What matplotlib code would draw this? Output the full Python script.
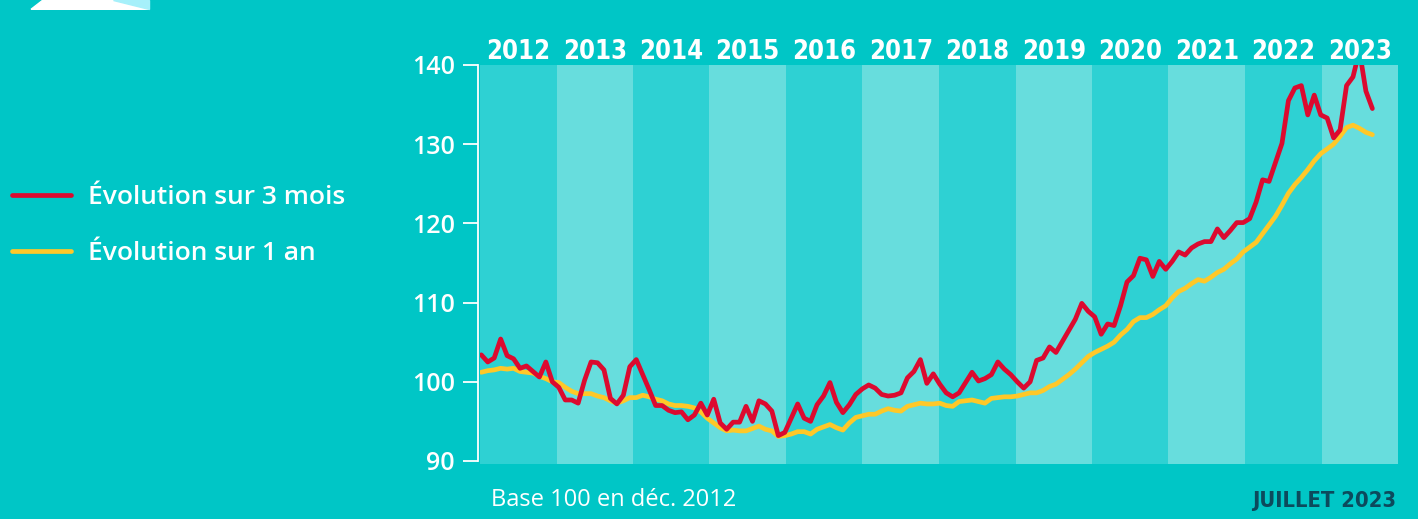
# Indice base 100 (déc. 2012) : évolution sur 3 mois / sur 1 an, janv. 2012 - juil. 2023
import numpy as np
import matplotlib
matplotlib.use("Agg")
import matplotlib.pyplot as plt
from matplotlib import font_manager as fm
from matplotlib.patches import Polygon

# --- data -------------------------------------------------------------
years = [str(y) for y in range(2012, 2024)]
yticks = [90, 100, 110, 120, 130, 140]

evol_3_mois = [
    103.4, 102.5, 103.0, 105.4, 103.3, 102.9, 101.7, 102.0, 101.3, 100.6, 102.5, 100.0,
    99.3, 97.7, 97.7, 97.3, 100.2, 102.5, 102.4, 101.5, 97.9, 97.2, 98.3, 101.9,
    102.8, 100.9, 99.0, 97.0, 97.0, 96.4, 96.1, 96.2, 95.2, 95.8, 97.3, 95.8,
    97.8, 94.8, 94.0, 94.9, 94.9, 96.9, 95.0, 97.6, 97.2, 96.3, 93.2, 93.6,
    95.4, 97.2, 95.4, 95.0, 97.1, 98.2, 99.9, 97.4, 96.1, 97.1, 98.4, 99.1,
    99.6, 99.2, 98.4, 98.2, 98.3, 98.6, 100.5, 101.3, 102.8, 99.8, 101.0, 99.7,
    98.6, 98.1, 98.6, 99.9, 101.2, 100.1, 100.4, 100.9, 102.5, 101.6, 100.9, 100.0,
    99.2, 100.0, 102.7, 103.0, 104.4, 103.7, 105.1, 106.5, 107.9, 109.9, 108.9, 108.2,
    106.0, 107.3, 107.1, 109.6, 112.6, 113.4, 115.6, 115.4, 113.3, 115.2, 114.2, 115.2,
    116.4, 116.0, 116.9, 117.4, 117.7, 117.7, 119.3, 118.2, 119.1, 120.1, 120.1, 120.6,
    122.7, 125.5, 125.3, 127.7, 130.1, 135.5, 137.1, 137.4, 133.7, 136.2, 133.7, 133.3,
    130.8, 131.8, 137.4, 138.5, 141.8, 136.7, 134.5,
]

evol_1_an = [
    101.2, 101.4, 101.5, 101.7, 101.6, 101.7, 101.3, 101.2, 101.1, 100.7, 100.4, 100.0,
    99.9, 99.3, 98.8, 98.5, 98.5, 98.5, 98.2, 98.0, 97.6, 97.3, 97.6, 98.0,
    98.0, 98.3, 98.1, 97.8, 97.6, 97.2, 97.0, 97.0, 96.9, 96.7, 96.2, 95.4,
    94.8, 94.2, 93.8, 93.9, 93.8, 93.8, 94.1, 94.4, 94.0, 93.8, 93.1, 93.2,
    93.4, 93.7, 93.7, 93.4, 94.0, 94.3, 94.6, 94.2, 93.9, 94.8, 95.5, 95.7,
    95.9, 95.9, 96.3, 96.6, 96.4, 96.3, 96.9, 97.1, 97.3, 97.2, 97.2, 97.3,
    97.0, 96.9, 97.5, 97.6, 97.7, 97.5, 97.3, 97.9, 98.0, 98.1, 98.1, 98.2,
    98.4, 98.6, 98.6, 98.9, 99.4, 99.7, 100.3, 100.9, 101.6, 102.4, 103.2, 103.7,
    104.1, 104.5, 105.0, 105.9, 106.6, 107.6, 108.1, 108.1, 108.5, 109.1, 109.6, 110.6,
    111.4, 111.8, 112.4, 112.9, 112.7, 113.2, 113.8, 114.2, 114.9, 115.5, 116.4, 117.0,
    117.6, 118.7, 119.8, 120.9, 122.3, 123.8, 124.9, 125.8, 126.8, 127.9, 128.8, 129.4,
    130.0, 131.0, 132.1, 132.4, 132.0, 131.5, 131.2,
]

# --- style ------------------------------------------------------------
BG = "#00C6C6"
BAND_DARK = "#2ED1D3"
BAND_LIGHT = "#67DDDD"
RED = "#DC0A2F"
YELLOW = "#FFC828"
NAVY = "#0C4A5C"
W, H = 1418, 519


def narrow_bold_font():
    # pick the most condensed bold sans face available
    best, best_key = None, None
    for f in fm.fontManager.ttflist:
        name = f.name.lower()
        if "serif" in name or "mono" in name:
            continue
        st = f.stretch if isinstance(f.stretch, int) else fm.stretch_dict.get(f.stretch, 500)
        if st >= 500 and "condensed" not in name and "narrow" not in name:
            continue
        if "italic" in f.style or "oblique" in f.style:
            continue
        wt = f.weight if isinstance(f.weight, int) else fm.weight_dict.get(f.weight, 400)
        if wt < 600:
            continue
        key = (st, abs(wt - 700))
        if best_key is None or key < best_key:
            best, best_key = f, key
    if best is None:
        return fm.FontProperties(family="DejaVu Sans", weight="bold")
    return fm.FontProperties(fname=best.fname)


cond = narrow_bold_font()
sans = ["Open Sans", "Noto Sans", "DejaVu Sans"]

fig = plt.figure(figsize=(W / 100, H / 100), dpi=100, facecolor=BG)
ax = fig.add_axes([480 / W, 1 - 463.5 / H, (1398 - 480) / W, (463.5 - 65) / H])
# dark bands = axes background, light bands drawn on top
ax.set_facecolor(BAND_DARK)

months = np.arange(len(evol_3_mois))
xmin, xmax = -0.2, 141.97
edges = np.linspace(xmin, xmax, len(years) + 1)
for k in range(1, len(years), 2):
    ax.axvspan(edges[k], edges[k + 1], color=BAND_LIGHT, lw=0, zorder=0)

ax.plot(months, evol_1_an, color=YELLOW, lw=3.4, solid_capstyle="round",
        solid_joinstyle="round", zorder=3, label="Évolution sur 1 an")
ax.plot(months, evol_3_mois, color=RED, lw=3.4, solid_capstyle="round",
        solid_joinstyle="round", zorder=4, label="Évolution sur 3 mois")

ax.set_xlim(xmin, xmax)
ax.set_ylim(89.68, 140)
ax.set_xticks([])
ax.set_yticks(yticks)
for s in ["top", "right", "bottom"]:
    ax.spines[s].set_visible(False)
ax.spines["left"].set_bounds(90, 140)
ax.spines["left"].set_position(("outward", 1.2))
ax.spines["left"].set_color("white")
ax.spines["left"].set_linewidth(1.3)
ax.tick_params(axis="y", colors="white", length=10.5, width=1.3, pad=6.5)
for lab in ax.get_yticklabels():
    lab.set_fontfamily(sans)
    lab.set_fontweight("semibold")
    lab.set_fontsize(18)

# year labels above the bands
year_texts = []
for k, y in enumerate(years):
    t = ax.text((edges[k] + edges[k + 1]) / 2, (463.5 - 59) / 398.5, y,
                transform=ax.get_xaxis_transform(), ha="center", va="baseline",
                color="white", fontproperties=cond, fontsize=26)
    year_texts.append(t)

# legend
handles, labels = ax.get_legend_handles_labels()
fig.legend(handles[::-1], labels[::-1], loc="upper left",
           bbox_to_anchor=(12 / W, 1 - 185 / H), frameon=False,
           prop=fm.FontProperties(family=sans, weight="semibold", size=19),
           labelcolor="white", handlelength=2.25, handletextpad=0.62,
           labelspacing=1.17, borderpad=0, borderaxespad=0)

fig.text(491 / W, 1 - 506 / H, "Base 100 en déc. 2012", color="white",
         fontfamily=sans, fontsize=17, va="baseline")
jt = fig.text(1396 / W, 1 - 507 / H, "JUILLET 2023", color=NAVY, ha="right",
              va="baseline", fontproperties=cond, fontsize=21)

# decoration at the top left
fig.patches.append(Polygon([(31 / W, 1 - 9.3 / H), (43 / W, 1.0), (113 / W, 1.0),
                            (149 / W, 1 - 9.3 / H)], closed=True, color="white",
                           transform=fig.transFigure, figure=fig))
fig.patches.append(Polygon([(113 / W, 1.0), (149 / W, 1.0), (149 / W, 1 - 9.3 / H)],
                           closed=True, color="#A6F0FA", transform=fig.transFigure,
                           figure=fig))

# fit the condensed labels to their width in the reference
fig.canvas.draw()
r = fig.canvas.get_renderer()
wy = year_texts[0].get_window_extent(r).width
for t in year_texts:
    t.set_fontsize(t.get_fontsize() * 64 / wy)
wj = jt.get_window_extent(r).width
jt.set_fontsize(jt.get_fontsize() * 144 / wj)

fig.savefig("out.png", dpi=100, facecolor=BG)
